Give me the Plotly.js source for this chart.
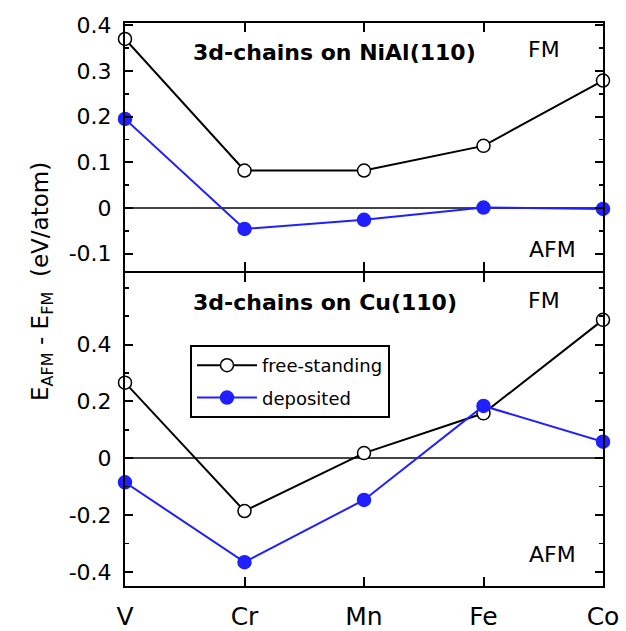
<!DOCTYPE html>
<html>
<head>
<meta charset="utf-8">
<script src="https://cdn.plot.ly/plotly-3.0.1.min.js"></script>
<style>html,body{margin:0;padding:0;background:#fff;}</style>
</head>
<body>
<div id="chart" style="width:626px;height:631px;"></div>
<script>
// ---- data ----
const elements = ['V', 'Cr', 'Mn', 'Fe', 'Co'];
const niAlFree = [0.370, 0.082, 0.082, 0.136, 0.279];
const niAlDeposited = [0.195, -0.046, -0.026, 0.001, -0.002];
const cuFree = [0.266, -0.186, 0.018, 0.158, 0.487];
const cuDeposited = [-0.085, -0.366, -0.147, 0.184, 0.058];
const topTickVals = [-0.1, 0, 0.1, 0.2, 0.3, 0.4];
const topTickText = ['-0.1', '0', '0.1', '0.2', '0.3', '0.4'];
const botTickVals = [-0.4, -0.2, 0, 0.2, 0.4];
const botTickText = ['-0.4', '-0.2', '0', '0.2', '0.4'];
const seriesNames = ['free-standing', 'deposited'];

const BLUE = '#1f1fff';
const FONT = 'DejaVu Sans, Arial, sans-serif';

function freeTrace(y, xa, ya, show) {
  return {x: elements, y: y, xaxis: xa, yaxis: ya, type: 'scatter', mode: 'lines+markers',
    name: seriesNames[0], legendgroup: 'free', showlegend: show, cliponaxis: false,
    line: {color: 'black', width: 2},
    marker: {symbol: 'circle', size: 13, color: 'white', line: {color: 'black', width: 1.5}}};
}
function depTrace(y, xa, ya, show) {
  return {x: elements, y: y, xaxis: xa, yaxis: ya, type: 'scatter', mode: 'lines+markers',
    name: seriesNames[1], legendgroup: 'dep', showlegend: show, cliponaxis: false,
    line: {color: BLUE, width: 2},
    marker: {symbol: 'circle', size: 13, color: BLUE, line: {color: BLUE, width: 1.5}}};
}

const data = [
  freeTrace(niAlFree, 'x2', 'y2', false),
  depTrace(niAlDeposited, 'x2', 'y2', false),
  freeTrace(cuFree, 'x', 'y', true),
  depTrace(cuDeposited, 'x', 'y', true)
];

const plotH = 563;
const split = 314 / plotH;
const xCommon = {type: 'category', range: [0, 4], ticks: 'inside', ticklen: 9, tickwidth: 2,
  tickcolor: 'black', showline: true, linewidth: 2, linecolor: 'black', mirror: 'allticks',
  showgrid: false, zeroline: false, fixedrange: true};
const yCommon = {ticks: 'inside', ticklen: 8, tickwidth: 2, tickcolor: 'black', showline: true,
  linewidth: 2, linecolor: 'black', mirror: 'allticks', showgrid: false, zeroline: true,
  zerolinecolor: '#444', zerolinewidth: 1.5, tickmode: 'array', ticklabelstandoff: 7,
  tickfont: {family: FONT, size: 22, color: 'black'}};

const annFont = {family: FONT, size: 22, color: 'black'};
const layout = {
  width: 626, height: 631,
  margin: {l: 125, r: 23, t: 23, b: 45},
  paper_bgcolor: 'white', plot_bgcolor: 'white',
  font: {family: FONT, color: 'black'},
  xaxis: Object.assign({}, xCommon, {domain: [0, 1], anchor: 'y',
    tickfont: {family: FONT, size: 25, color: 'black'}, ticklabelstandoff: 7}),
  xaxis2: Object.assign({}, xCommon, {domain: [0, 1], anchor: 'y2', matches: 'x', showticklabels: false}),
  yaxis: Object.assign({}, yCommon, {domain: [0, split - 1 / plotH], anchor: 'x', range: [-0.45, 0.652],
    tickvals: botTickVals, ticktext: botTickText,
    minor: {dtick: 0.1, tick0: 0, ticks: 'inside', ticklen: 4, tickwidth: 1.5, tickcolor: 'black'}}),
  yaxis2: Object.assign({}, yCommon, {domain: [split + 1 / plotH, 1], anchor: 'x2', range: [-0.138, 0.405],
    tickvals: topTickVals, ticktext: topTickText,
    minor: {dtick: 0.05, tick0: 0, ticks: 'inside', ticklen: 4, tickwidth: 1.5, tickcolor: 'black'}}),
  legend: {x: (190 - 125) / 478, y: (586 - 345) / 563, xanchor: 'left', yanchor: 'top',
    bgcolor: 'white', bordercolor: 'black', borderwidth: 2, itemwidth: 60, tracegroupgap: 6,
    font: {family: FONT, size: 18, color: 'black'}},
  annotations: [
    {xref: 'x2', yref: 'y2', x: 1.749, y: 0.340, text: '<b>3d-chains on NiAl(110)</b>', showarrow: false, font: annFont},
    {xref: 'x', yref: 'y', x: 1.674, y: 0.549, text: '<b>3d-chains on Cu(110)</b>', showarrow: false, font: annFont},
    {xref: 'x2', yref: 'y2', x: 3.506, y: 0.346, text: 'FM', showarrow: false, font: annFont},
    {xref: 'x2', yref: 'y2', x: 3.58, y: -0.092, text: 'AFM', showarrow: false, font: annFont},
    {xref: 'x', yref: 'y', x: 3.506, y: 0.556, text: 'FM', showarrow: false, font: annFont},
    {xref: 'x', yref: 'y', x: 3.58, y: -0.340, text: 'AFM', showarrow: false, font: annFont},
    {xref: 'paper', yref: 'paper', x: (25 - 125) / 478, y: (586 - 282) / 563, textangle: -90,
      text: 'E<sub>AFM</sub> - E<sub>FM</sub>\u00a0\u00a0(eV/atom)', showarrow: false,
      font: {family: FONT, size: 23, color: 'black'}}
  ]
};

Plotly.newPlot('chart', data, layout, {displayModeBar: false, staticPlot: true});
</script>
</body>
</html>
